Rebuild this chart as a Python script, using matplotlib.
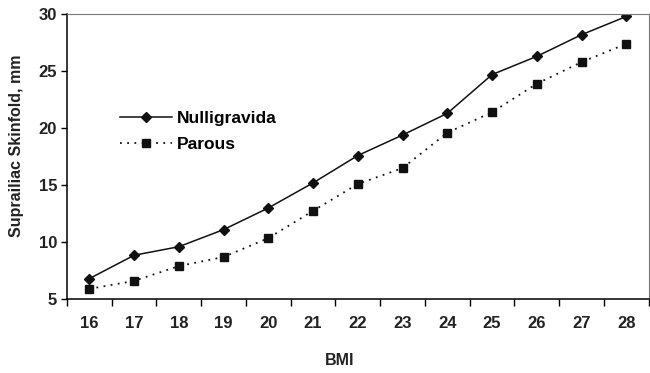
import matplotlib

matplotlib.use("Agg")

import matplotlib.pyplot as plt
import numpy as np

bmi = [16, 17, 18, 19, 20, 21, 22, 23, 24, 25, 26, 27, 28]
nulligravida = [6.8, 8.85, 9.6, 11.1, 13.0, 15.2, 17.6, 19.4, 21.3, 24.7, 26.3, 28.2, 29.8]
parous = [5.9, 6.6, 7.9, 8.7, 10.35, 12.75, 15.1, 16.5, 19.6, 21.4, 23.9, 25.8, 27.4]

plt.rcParams.update({
    "font.family": "Liberation Sans",
    "font.weight": "bold",
    "axes.labelweight": "bold",
})

fig = plt.figure(figsize=(6.5, 3.73), dpi=100)
ax = fig.add_axes([0.103, 0.198, 0.895, 0.764])

pos = np.arange(len(bmi))
ax.plot(pos, nulligravida, color="#111111", linewidth=1.1, marker="D",
        markersize=4.8, label="Nulligravida")
ax.plot(pos, parous, color="#111111", linewidth=1.3, linestyle=(0, (1, 3)),
        marker="s", markersize=5.8, label="Parous")

ax.set_xlim(-0.5, len(bmi) - 0.5)
ax.set_ylim(5, 30)
ax.set_yticks([5, 10, 15, 20, 25, 30])
ax.set_xticks(pos)
ax.set_xticklabels([str(b) for b in bmi])
ax.set_xticks(np.arange(-0.5, len(bmi)), minor=True)
ax.tick_params(axis="x", which="major", length=0, pad=12, labelsize=12,
               labelcolor="#222222")
ax.tick_params(axis="x", which="minor", length=5, width=1, direction="out")
ax.tick_params(axis="y", length=4, width=1, labelsize=12, pad=3,
               labelcolor="#222222")

for side in ("left", "bottom"):
    ax.spines[side].set_linewidth(1.1)
for side in ("top", "right"):
    ax.spines[side].set_color("#777777")
    ax.spines[side].set_linewidth(0.8)

ax.set_xlabel("BMI", fontsize=11.5, color="#222222", va="center")
ax.xaxis.set_label_coords(0.469, -0.215)
ax.set_ylabel("Suprailiac Skinfold, mm", fontsize=11.5, color="#222222")
ax.yaxis.set_label_coords(-0.073, 0.54)

ax.legend(loc="upper left", bbox_to_anchor=(0.064, 0.715), frameon=False,
          fontsize=12.5, handlelength=3.0, handletextpad=0.3, labelspacing=0.6)

fig.savefig("out.png", dpi=100)
